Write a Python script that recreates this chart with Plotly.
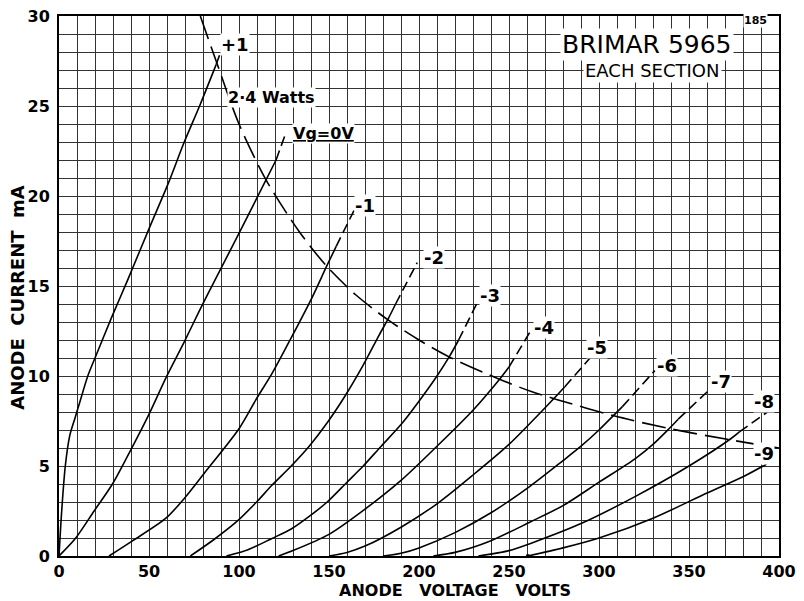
import plotly.graph_objects as go

# ---- data: anode voltage (V) / anode current (mA) ----
# solid parts of the characteristic curves, keyed by grid voltage
va_p1 = [0, 1.5, 3.5, 6, 9, 12, 16, 20, 29, 38, 50.5, 60.7, 69.2, 78.5, 87.3]
ia_p1 = [0, 2.5, 5.0, 6.7, 7.7, 8.7, 10.0, 11.0, 13.2, 15.3, 18.3, 20.7, 22.9, 25.1, 27.3]

va_0 = [0, 9.3, 19.5, 29.7, 39.9, 50.1, 59.4, 69.6, 77.9, 87, 100.9, 115, 120.6]
ia_0 = [0, 1.0, 2.5, 4.0, 5.9, 7.9, 9.9, 11.9, 13.6, 15.4, 18.1, 20.9, 22.0]

va_m1 = [27.8, 40.8, 59.4, 69.6, 80.7, 100.2, 109.5, 118.7, 128.9, 140.3, 148.7, 154]
ia_m1 = [0, 0.84, 2.1, 3.2, 4.6, 7.1, 8.7, 10.2, 12.1, 14.3, 16.1, 17.2]

va_m2 = [73, 86.3, 99.3, 110.4, 118, 129, 139, 149, 159, 169, 178, 183, 187]
ia_m2 = [0, 0.93, 1.96, 3.07, 3.9, 5.0, 6.1, 7.4, 8.9, 10.6, 12.3, 13.2, 14.0]

va_m3 = [93, 105, 118, 129, 139, 149, 160, 169, 179, 190, 200, 210, 217, 222]
ia_m3 = [0, 0.35, 0.96, 1.5, 2.2, 3.0, 4.1, 5.0, 6.1, 7.3, 8.6, 10.0, 11.1, 12.0]

va_m4 = [122, 130, 150, 170, 190, 210, 230, 245, 250]
ia_m4 = [0, 0.3, 1.2, 2.6, 4.2, 6.1, 8.1, 9.85, 10.5]

va_m5 = [150, 160, 170, 190, 210, 230, 250, 262, 276.4, 281]
ia_m5 = [0, 0.2, 0.55, 1.6, 2.9, 4.5, 6.2, 7.4, 8.9, 9.4]

va_m6 = [180, 190, 200, 220, 240, 262, 280, 290, 300, 308, 313]
ia_m6 = [0, 0.15, 0.45, 1.3, 2.4, 3.9, 5.3, 6.1, 7.0, 7.8, 8.3]

va_m7 = [208, 220, 240, 262, 280, 300, 320, 330, 339, 344]
ia_m7 = [0, 0.2, 0.85, 1.9, 2.8, 4.1, 5.4, 6.2, 7.08, 7.6]

va_m8 = [233, 250, 262, 290, 320, 350, 373, 378]
ia_m8 = [0, 0.3, 0.7, 1.8, 3.3, 5.0, 6.5, 6.9]

va_m9 = [260.5, 280, 300, 330, 360, 380, 393]
ia_m9 = [0, 0.45, 1.0, 2.1, 3.5, 4.4, 5.1]

# dashed continuations beyond the dissipation limit
va_p1_d = [87.3, 92];   ia_p1_d = [27.3, 28.6]
va_0_d = [120.6, 126];  ia_0_d = [22.0, 23.5]
va_m1_d = [154, 164.4]; ia_m1_d = [17.2, 19.3]
va_m2_d = [187, 199];   ia_m2_d = [14.0, 16.3]
va_m3_d = [222, 233];   ia_m3_d = [12.0, 14.2]
va_m4_d = [250, 262];   ia_m4_d = [10.5, 12.5]
va_m5_d = [281, 295];   ia_m5_d = [9.4, 11.0]
va_m6_d = [313, 331];   ia_m6_d = [8.3, 10.3]
va_m7_d = [344, 362];   ia_m7_d = [7.6, 9.3]
va_m8_d = [378, 395];   ia_m8_d = [6.9, 8.1]

# 2.4 W anode dissipation curve
va_pw = [78.5, 87.3, 100, 115, 133.6, 148.7, 165, 183, 200, 217, 244, 262, 276.4, 307.8, 339, 373, 400]
ia_pw = [30.0, 27.5, 24.0, 20.9, 18.0, 16.1, 14.5, 13.1, 12.0, 11.05, 9.85, 9.15, 8.7, 7.8, 7.08, 6.45, 6.0]

# curve labels (text, voltage, current)
lab_text = ["+1", "Vg=0V", "-1", "-2", "-3", "-4", "-5", "-6", "-7", "-8", "-9"]
lab_va = [97.8, 146.7, 170, 208.3, 239.4, 269.4, 298.9, 337.6, 367.6, 391.7, 391.7]
lab_ia = [28.4, 23.5, 19.5, 16.56, 14.5, 12.67, 11.6, 10.6, 9.68, 8.57, 5.67]

x_ticks = [0, 50, 100, 150, 200, 250, 300, 350, 400]
y_ticks = [0, 5, 10, 15, 20, 25, 30]

solid = [(va_p1, ia_p1), (va_0, ia_0), (va_m1, ia_m1), (va_m2, ia_m2), (va_m3, ia_m3),
         (va_m4, ia_m4), (va_m5, ia_m5), (va_m6, ia_m6), (va_m7, ia_m7), (va_m8, ia_m8),
         (va_m9, ia_m9)]
dashed = [(va_p1_d, ia_p1_d), (va_0_d, ia_0_d), (va_m1_d, ia_m1_d), (va_m2_d, ia_m2_d),
          (va_m3_d, ia_m3_d), (va_m4_d, ia_m4_d), (va_m5_d, ia_m5_d), (va_m6_d, ia_m6_d),
          (va_m7_d, ia_m7_d), (va_m8_d, ia_m8_d)]

fig = go.Figure()
for vx, iy in solid:
    fig.add_trace(go.Scatter(x=vx, y=iy, mode="lines",
                             line=dict(color="black", width=1.6, shape="spline", smoothing=0.8),
                             showlegend=False, hoverinfo="skip"))
for vx, iy in dashed:
    fig.add_trace(go.Scatter(x=vx, y=iy, mode="lines",
                             line=dict(color="black", width=1.6, dash="10px,5px"),
                             showlegend=False, hoverinfo="skip"))
fig.add_trace(go.Scatter(x=va_pw, y=ia_pw, mode="lines",
                         line=dict(color="black", width=1.6, dash="24px,8px",
                                   shape="spline", smoothing=0.8),
                         showlegend=False, hoverinfo="skip"))
fig.add_trace(go.Scatter(x=[va_m9[0]], y=[ia_m9[0]], mode="markers",
                         marker=dict(color="black", size=4), showlegend=False, hoverinfo="skip"))

lab_font = dict(family="DejaVu Sans", size=18, color="black", weight="bold")
for t, vx, iy in zip(lab_text, lab_va, lab_ia):
    txt = "<u>" + t + "</u>" if t.startswith("Vg") else t
    fig.add_annotation(x=vx, y=iy, xref="x", yref="y", text=txt, showarrow=False,
                       font=dict(lab_font, size=16 if t.startswith("Vg") else 18),
                       bgcolor="white", borderpad=0)

fig.add_annotation(x=118.3, y=25.5, xref="x", yref="y", text="2·4 Watts", showarrow=False,
                   font=dict(family="DejaVu Sans", size=16, color="black", weight="bold"),
                   bgcolor="white", borderpad=0)
fig.add_annotation(x=326.9, y=28.39, xref="x", yref="y", text="BRIMAR 5965", showarrow=False,
                   font=dict(family="DejaVu Sans", size=25, color="black"),
                   bgcolor="white", borderpad=1)
fig.add_annotation(x=329.7, y=27.0, xref="x", yref="y", text="EACH SECTION", showarrow=False,
                   font=dict(family="DejaVu Sans", size=18, color="black"),
                   bgcolor="white", borderpad=1)
fig.add_annotation(x=386.7, y=29.75, xref="x", yref="y", text="185", showarrow=False,
                   font=dict(family="DejaVu Sans", size=11, color="black", weight="bold"),
                   bgcolor="white", borderpad=0)

# axis titles
fig.add_annotation(x=0.55, y=-0.064, xref="paper", yref="paper",
                   text="ANODE\u00a0\u00a0\u00a0VOLTAGE\u00a0\u00a0\u00a0VOLTS", showarrow=False,
                   font=dict(family="DejaVu Sans", size=16, color="black", weight="bold"),
                   xanchor="center", yanchor="middle", borderpad=0)
fig.add_annotation(x=-0.057, y=0.48, xref="paper", yref="paper",
                   text="ANODE\u00a0\u00a0CURRENT\u00a0\u00a0mA", showarrow=False, textangle=-90,
                   font=dict(family="DejaVu Sans", size=18, color="black", weight="bold"),
                   xanchor="center", yanchor="middle")

axis_common = dict(showline=True, linecolor="black", linewidth=2, mirror=True,
                   showgrid=True, gridcolor="#333333", gridwidth=1, zeroline=False,
                   ticks="", tickfont=dict(family="DejaVu Sans", size=16, color="black",
                                           weight="bold"))
fig.update_xaxes(range=[0, 400], tickvals=x_ticks, ticktext=[str(v) for v in x_ticks],
                 minor=dict(dtick=10, showgrid=True, gridcolor="#333333", gridwidth=1),
                 ticklabelstandoff=0, **axis_common)
fig.update_yaxes(range=[0, 30], tickvals=y_ticks, ticktext=[str(v) for v in y_ticks],
                 minor=dict(dtick=1, showgrid=True, gridcolor="#333333", gridwidth=1),
                 ticklabelstandoff=4, **axis_common)

fig.update_layout(width=804, height=601, margin=dict(l=59, r=25, t=16, b=45, autoexpand=False),
                  paper_bgcolor="white", plot_bgcolor="white", showlegend=False)

fig.write_html("out.html", config={"displayModeBar": False},
               post_script="document.body.style.margin='0';document.body.style.overflow='hidden';")
